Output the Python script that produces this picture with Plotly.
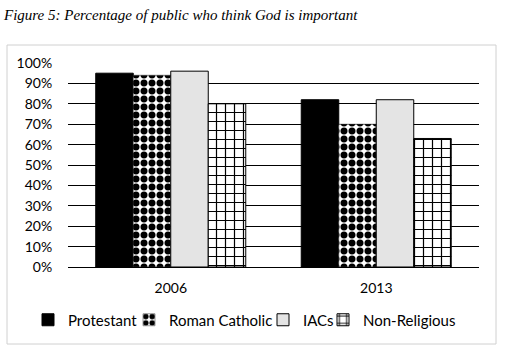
import plotly.graph_objects as go

years = ["2006", "2013"]
protestant = [0.95, 0.82]
roman_catholic = [0.94, 0.70]
iacs = [0.96, 0.82]
non_religious = [0.80, 0.63]
y_ticks = [0, 0.1, 0.2, 0.3, 0.4, 0.5, 0.6, 0.7, 0.8, 0.9, 1.0]
y_tick_labels = ["0%", "10%", "20%", "30%", "40%", "50%", "60%", "70%", "80%", "90%", "100%"]

fig = go.Figure()
fig.add_bar(x=years, y=protestant, name="Protestant", legend="legend",
            marker=dict(color="black", line=dict(color="black", width=1)))
fig.add_bar(x=years, y=roman_catholic, name="Roman Catholic", legend="legend2",
            marker=dict(color="white", line=dict(color="#333", width=0.5),
                        pattern=dict(shape=".", fgcolor="black", bgcolor="white",
                                     fgopacity=1, size=8, solidity=0.6)))
fig.add_bar(x=years, y=iacs, name="IACs", legend="legend3",
            marker=dict(color="#e4e4e4", line=dict(color="black", width=1)))
fig.add_bar(x=years, y=non_religious, name="Non-Religious", legend="legend4",
            marker=dict(color="white", line=dict(color="black", width=1),
                        pattern=dict(shape="+", fgcolor="black", bgcolor="white",
                                     fgopacity=1, size=9, solidity=0.25)))

font_main = "Lato, 'Liberation Sans', sans-serif"

W, H = 509, 347
# chart frame (paper area) in pixels
FL, FR, FT, FB = 7, 496, 45, 344
# plot area in pixels
PL, PR, PT, PB = 68, 479, 63, 267
FW, FH = FR - FL, FB - FT


def leg(text_left_px):
    return dict(orientation="h", x=(text_left_px - 40 - FL) / FW, xanchor="left",
                y=(FB - 320) / FH, yanchor="middle",
                font=dict(size=15), itemwidth=30, bgcolor="rgba(0,0,0,0)")


fig.update_layout(
    width=W, height=H,
    showlegend=True,
    margin=dict(l=FL, r=W - FR, t=FT, b=H - FB, autoexpand=False),
    paper_bgcolor="white", plot_bgcolor="white",
    barmode="group", bargap=0.27, bargroupgap=0,
    font=dict(family=font_main, size=14, color="black"),
    title=dict(text="<i>Figure 5: Percentage of public who think God is important</i>",
               font=dict(family="'Liberation Serif', serif", size=15, color="black"),
               x=4/W, xanchor="left", xref="container", pad=dict(l=0, r=0, t=0, b=0),
               y=1-15/H, yanchor="middle", yref="container"),
    legend=leg(68), legend2=leg(169), legend3=leg(303), legend4=leg(363),
    yaxis=dict(range=[0, 1.0], tickvals=y_ticks, ticktext=y_tick_labels,
               domain=[(FB - PB) / FH, (FB - PT) / FH],
               showgrid=True, gridcolor="black", gridwidth=1,
               zeroline=True, zerolinecolor="black", zerolinewidth=1,
               showline=False, ticks="outside", ticklen=12,
               tickcolor="rgba(0,0,0,0)"),
    xaxis=dict(domain=[(PL - FL) / FW, (PR - FL) / FW],
               showline=False, ticks="outside", ticklen=8,
               tickcolor="rgba(0,0,0,0)", showgrid=False),
    shapes=[dict(type="rect", xref="paper", yref="paper",
                 x0=0, x1=1, y0=0, y1=1,
                 line=dict(color="#d0d0d0", width=1), layer="below")],
)

fig.write_html("out.html", config={"displayModeBar": False},
               post_script="document.body.style.margin='0';")
